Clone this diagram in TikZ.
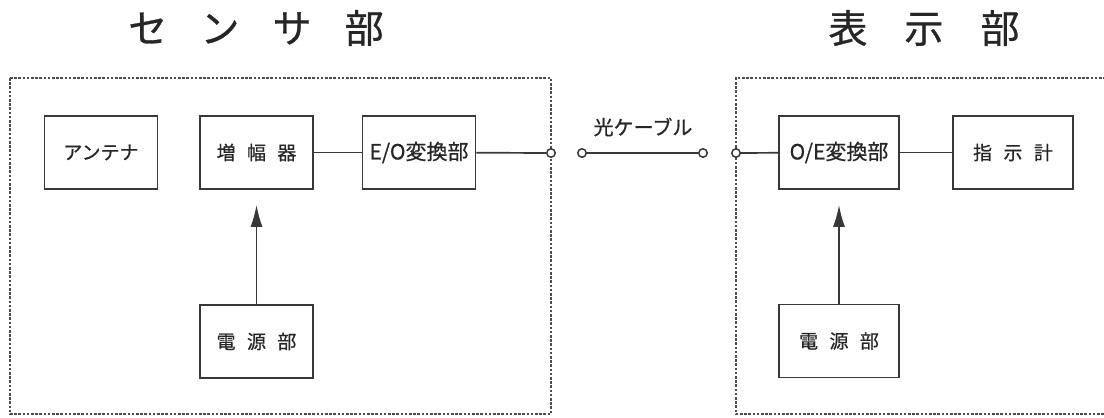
\documentclass[tikz,border=0pt]{standalone}
\usepackage{fontspec}
\setmainfont{Noto Sans CJK JP}[FakeBold=0.7]
\usetikzlibrary{arrows.meta}
\definecolor{ink}{gray}{0.22}
\definecolor{dash}{gray}{0.3}
\begin{document}
\begin{tikzpicture}[x=1pt,y=-1pt,
  blk/.style={draw=ink,line width=1.8pt,minimum width=113pt,minimum height=73pt,inner sep=0pt,
    font=\fontsize{19}{22}\selectfont,text=black!85},
  wblk/.style={blk,minimum width=120pt},
  big/.style={font=\fontsize{21}{25}\selectfont},
  term/.style={draw=ink,line width=1.5pt,circle,fill=white,minimum size=8.5pt,inner sep=0pt},
  dbox/.style={draw=dash,line width=1.5pt,dash pattern=on 2.6pt off 1.6pt},
  wire/.style={draw=ink,line width=1.7pt},
  feed/.style={wire,shorten >=15pt,-{Latex[length=22pt,width=12pt]}},
  ttl/.style={font=\fontsize{39}{44}\selectfont,text=black!85,inner sep=0pt},
  lbl/.style={font=\fontsize{20}{24}\selectfont,text=black!85,inner sep=0pt}]
\useasboundingbox (0,0) rectangle (1104,418);
% titles
\node[ttl] (tsen) at (256,28) {セ\hspace{0.85em}ン\hspace{0.85em}サ\hspace{0.85em}部};
\node[ttl] (tdisp) at (924,28) {表\hspace{0.95em}示\hspace{0.95em}部};
% dashed enclosures
\draw[dbox] (10,78) rectangle (551,414);
\draw[dbox] (1110,78) -- (736,78) -- (736,414) -- (1110,414);
% blocks
\node[blk] (ant) at (101,152.5) {アンテナ};
\node[blk] (amp) at (256.5,152.5) {増\hspace{0.6em}幅\hspace{0.6em}器};
\node[blk,big] (eo) at (419,152.5) {E/O変換部};
\node[blk] (psl) at (256.5,341.5) {電\hspace{0.6em}源\hspace{0.6em}部};
\node[wblk,big] (oe) at (839,152.5) {O/E変換部};
\node[wblk] (ind) at (1013,152.5) {指\hspace{0.6em}示\hspace{0.6em}計};
\node[wblk] (psr) at (839,341) {電\hspace{0.6em}源\hspace{0.6em}部};
% terminals
\node[term] (t1) at (551,153) {};
\node[term] (t2) at (582,153) {};
\node[term] (t3) at (703,153) {};
\node[term] (t4) at (736,153) {};
\node[lbl] (cab) at (643,127) {光ケーブル};
% wires
\draw[wire] (amp) -- (eo);
\draw[wire] (eo) -- (t1);
\draw[wire] (t2) -- (t3);
\draw[wire] (t4) -- (oe);
\draw[wire] (oe) -- (ind);
\draw[feed] (psl) -- (amp);
\draw[feed] (psr) -- (oe);
\end{tikzpicture}
\end{document}
